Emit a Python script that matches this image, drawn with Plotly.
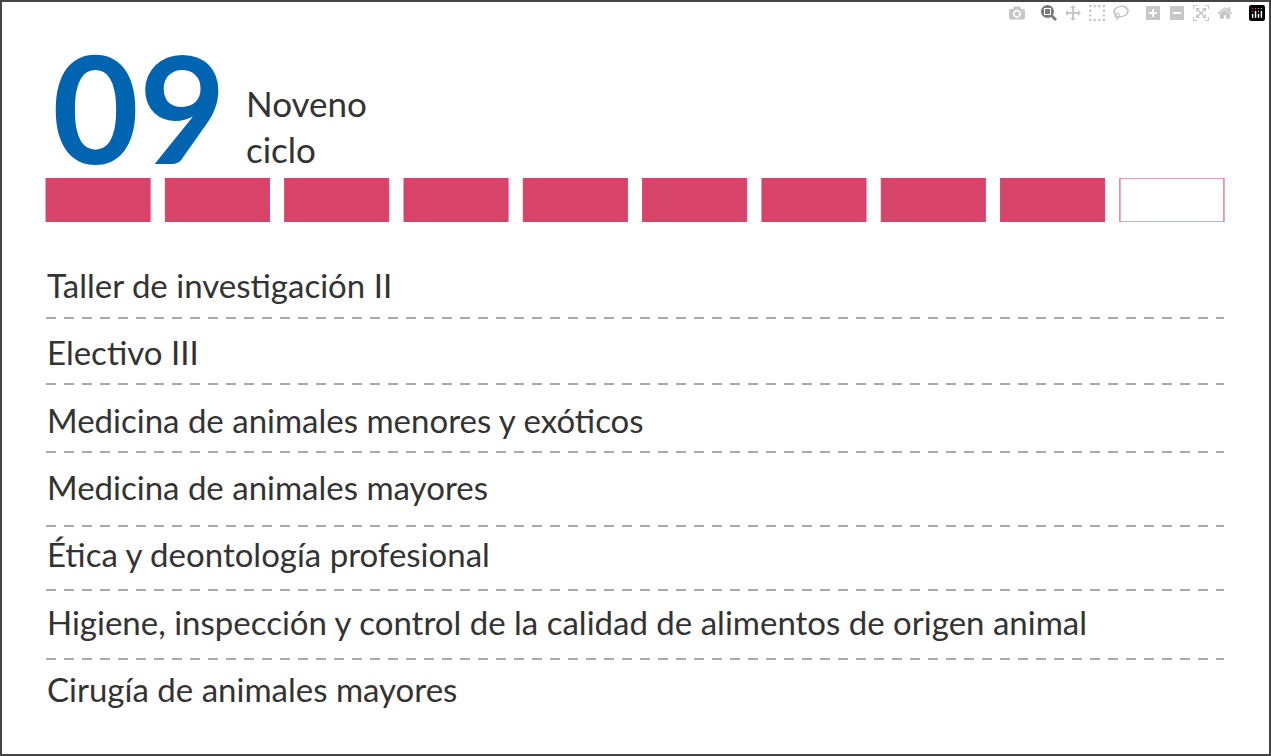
import plotly.graph_objects as go

W, H = 1271, 756
cycle_number = "09"
cycle_label = ["Noveno", "ciclo"]
total_cycles = 10
completed_cycles = 9
courses = [
    "Taller de investigación II",
    "Electivo III",
    "Medicina de animales menores y exóticos",
    "Medicina de animales mayores",
    "Ética y deontología profesional",
    "Higiene, inspección y control de la calidad de alimentos de origen animal",
    "Cirugía de animales mayores",
]
RED = "#d8436a"
BLUE = "#0064b0"
TXT = "#333333"

steps = list(range(1, total_cycles + 1))
fills = [RED if s <= completed_cycles else "white" for s in steps]

fig = go.Figure()
fig.add_trace(go.Bar(x=steps, y=[1] * total_cycles, width=0.872,
                     marker=dict(color=fills, line=dict(color=RED, width=1)),
                     hoverinfo="skip"))

def px(x): return x / W
def py(y): return 1 - y / H

fig.update_layout(
    width=W, height=H, margin=dict(l=0, r=0, t=0, b=0),
    paper_bgcolor="white", plot_bgcolor="rgba(0,0,0,0)", showlegend=False,
    xaxis=dict(domain=[px(38.4), px(1231.6)], range=[0.5, 10.5], visible=False),
    yaxis=dict(domain=[py(222), py(178)], range=[0, 1], visible=False),
)

ann = [
    dict(text=f"<b>{cycle_number}</b>", x=px(50), y=py(106), xanchor="left", yanchor="middle",
         xref="paper", yref="paper",
         font=dict(family="Lato", size=150, color=BLUE), showarrow=False),
    dict(text="<br>".join(cycle_label), x=px(244), y=py(126), xanchor="left", yanchor="middle",
         xref="paper", yref="paper",
         font=dict(family="Lato", size=35, color=TXT), showarrow=False, align="left"),
]
row_y = [285, 352, 420, 487, 554, 622, 689]
for c, yy in zip(courses, row_y):
    ann.append(dict(text=c, x=px(45), y=py(yy), xanchor="left", yanchor="middle",
                    xref="paper", yref="paper",
                    font=dict(family="Lato", size=33, color=TXT), showarrow=False))
shapes = [dict(type="rect", xref="paper", yref="paper", x0=px(1), y0=py(755), x1=px(1270), y1=py(1),
               line=dict(color="#444", width=2))]
for yy in [318, 384, 452, 526, 590, 659]:
    shapes.append(dict(type="line", xref="paper", yref="paper", x0=px(46), x1=px(1224),
                       y0=py(yy), y1=py(yy), line=dict(color="#555", width=1, dash="10px,8px")))
fig.update_layout(annotations=ann, shapes=shapes)
fig.write_html("out.html",
               post_script="document.body.style.margin='0';document.body.style.overflow='hidden';")
